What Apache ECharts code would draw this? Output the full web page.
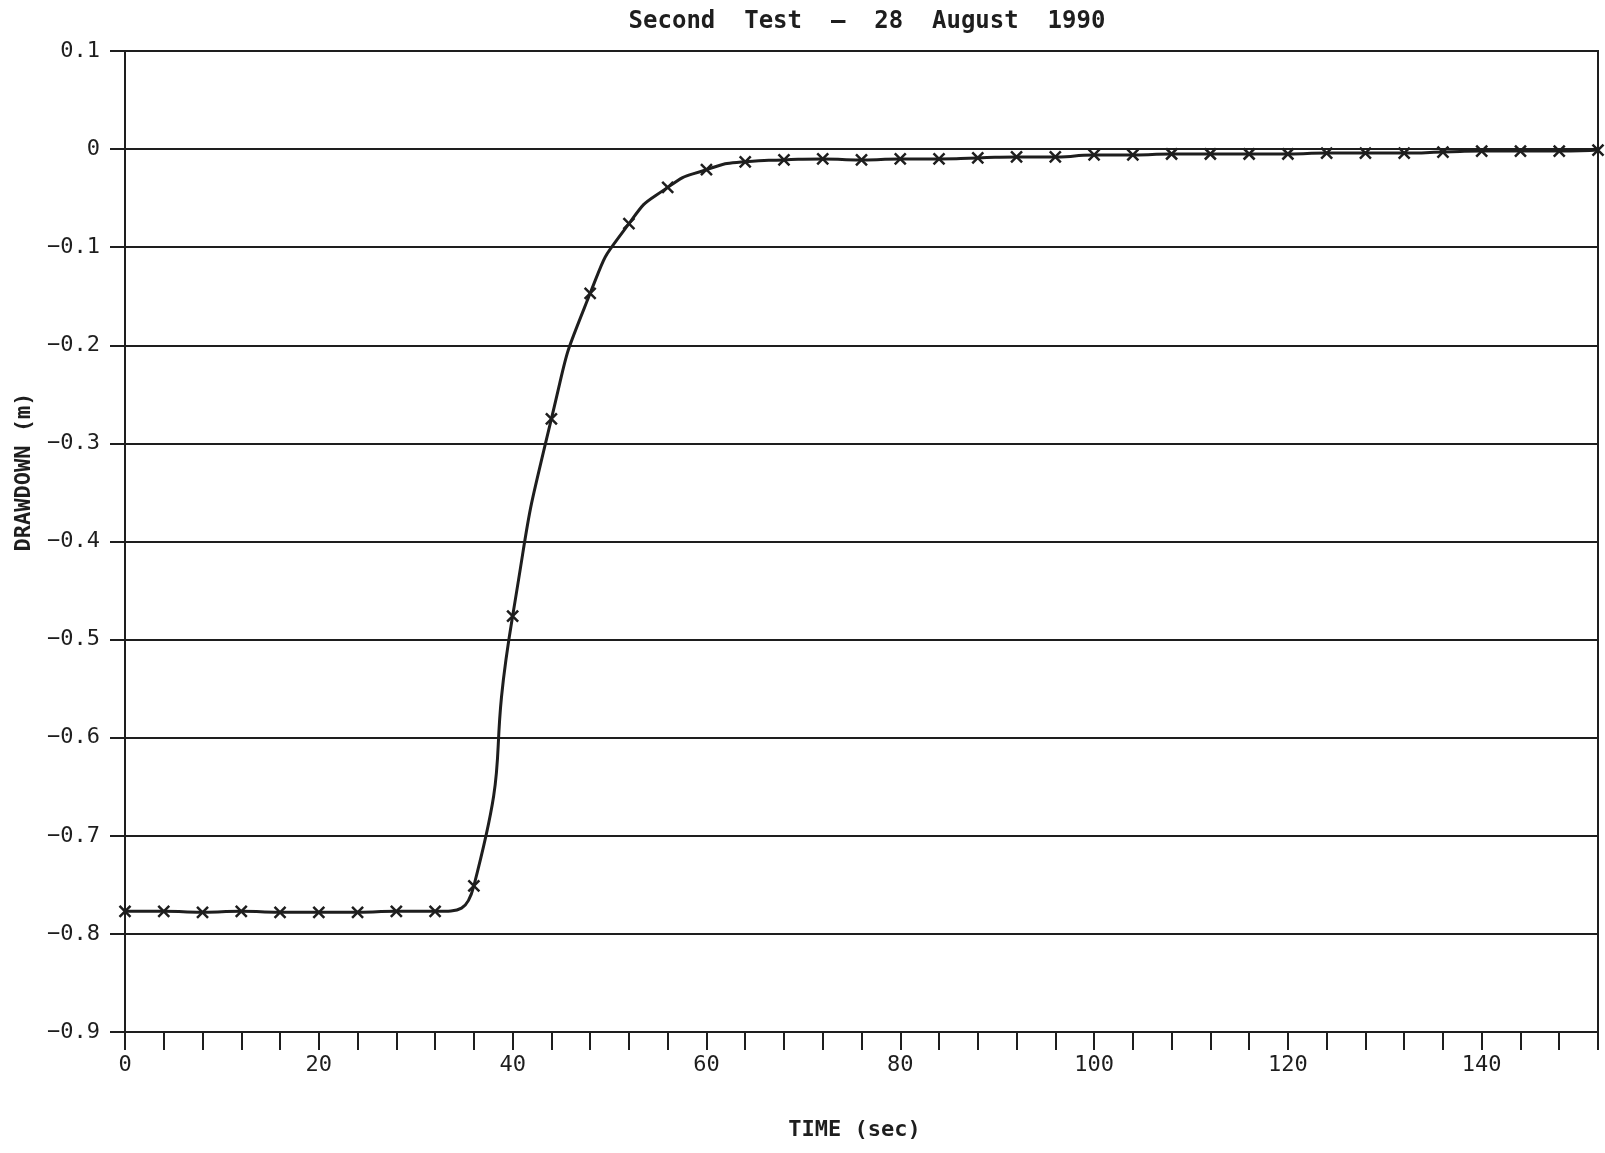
<!DOCTYPE html>
<html>
<head>
<meta charset="utf-8">
<title>Second Test - 28 August 1990</title>
<script src="https://cdn.jsdelivr.net/npm/echarts@6/dist/echarts.min.js"></script>
<style>
  html, body { margin: 0; padding: 0; background: #ffffff; }
  #chart { width: 1605px; height: 1153px; }
</style>
</head>
<body>
<div id="chart"></div>
<script>
// Elapsed time of each reading (sec)
const timeSec = [0, 4, 8, 12, 16, 20, 24, 28, 32, 36, 40, 44, 48, 52, 56, 60, 64, 68, 72, 76,
  80, 84, 88, 92, 96, 100, 104, 108, 112, 116, 120, 124, 128, 132, 136, 140, 144, 148, 152];

// Drawdown at each reading (m)
const drawdown = [-0.777, -0.777, -0.778, -0.777, -0.778, -0.778, -0.778, -0.777, -0.777, -0.751,
  -0.476, -0.275, -0.147, -0.076, -0.039, -0.021, -0.013, -0.011, -0.010, -0.011,
  -0.010, -0.010, -0.009, -0.008, -0.008, -0.006, -0.006, -0.005, -0.005, -0.005,
  -0.005, -0.004, -0.004, -0.004, -0.003, -0.002, -0.002, -0.002, -0.001];

// Labelled x ticks
const xLabelValues = [0, 20, 40, 60, 80, 100, 120, 140];

const ink = '#1e1e1e';
const plotFont = '"DejaVu Sans Mono", "Liberation Mono", monospace';

const chart = echarts.init(document.getElementById('chart'), null, { renderer: 'canvas' });

chart.setOption({
  backgroundColor: '#ffffff',
  animation: false,
  title: {
    text: 'Second  Test  —  28  August  1990',
    left: 862,
    top: 5,
    textAlign: 'center',
    textStyle: { fontFamily: plotFont, fontSize: 24, fontWeight: 'bold', color: ink }
  },
  // vertical axis title, set a little above the middle of the plot
  graphic: [{
    type: 'text',
    x: 24,
    y: 472,
    rotation: Math.PI / 2,
    style: {
      text: 'DRAWDOWN (m)',
      fontFamily: plotFont, fontSize: 22, fontWeight: 'bold', fill: ink,
      align: 'center', verticalAlign: 'middle'
    }
  }],
  grid: {
    left: 125, right: 7, top: 51, bottom: 121,
    show: true, borderColor: ink, borderWidth: 2, backgroundColor: 'transparent'
  },
  xAxis: {
    type: 'value',
    min: 0, max: 152, interval: 4,
    name: 'TIME (sec)',
    nameLocation: 'middle',
    nameGap: 87,
    nameTextStyle: { fontFamily: plotFont, fontSize: 22, fontWeight: 'bold', color: ink, padding: [0, 14, 0, 0] },
    axisLine: { show: true, onZero: false, lineStyle: { color: ink, width: 2 } },
    axisTick: { show: true, inside: false, length: 18, lineStyle: { color: ink, width: 2 } },
    axisLabel: {
      margin: 22,
      fontFamily: plotFont, fontSize: 22, color: ink,
      formatter: v => (xLabelValues.indexOf(v) >= 0 ? String(v) : '')
    },
    splitLine: { show: false }
  },
  yAxis: {
    type: 'value',
    min: -0.9, max: 0.1, interval: 0.1,
    axisLine: { show: true, onZero: false, lineStyle: { color: ink, width: 2 } },
    axisTick: { show: true, inside: false, length: 15, lineStyle: { color: ink, width: 2 } },
    axisLabel: {
      margin: 25,
      fontFamily: plotFont, fontSize: 22, color: ink,
      formatter: v => {
        const r = Math.round(v * 10) / 10;
        if (r === 0) return '0';
        return r.toFixed(1).replace('-', '−');
      }
    },
    splitLine: { show: true, lineStyle: { color: ink, width: 2 } }
  },
  series: [{
    type: 'line',
    data: timeSec.map((t, i) => [t, drawdown[i]]),
    smooth: 0.6,
    symbol: 'path://M0,0L10,10M10,0L0,10',
    symbolSize: 11,
    showSymbol: true,
    clip: false,
    lineStyle: { color: ink, width: 3 },
    itemStyle: { color: ink, borderColor: ink, borderWidth: 2.5 }
  }]
});
</script>
</body>
</html>
